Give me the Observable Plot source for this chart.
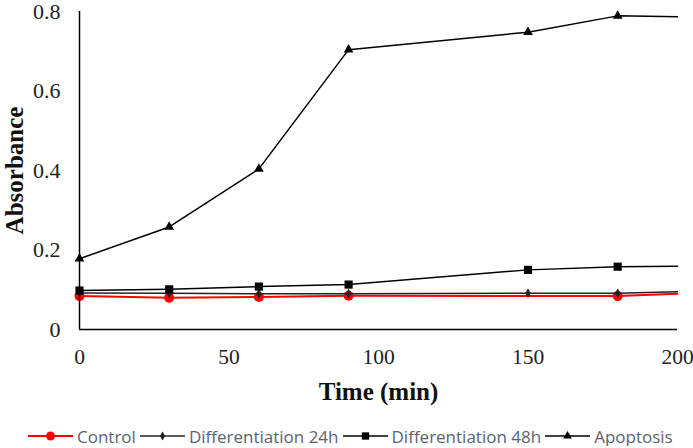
<!DOCTYPE html>
<html>
<head>
<meta charset="utf-8">
<script src="https://cdn.jsdelivr.net/npm/d3@7"></script>
<script src="https://cdn.jsdelivr.net/npm/@observablehq/plot@0.6"></script>
<style>
  html, body { margin: 0; padding: 0; background: #fff; }
  #chart svg { display: block; }
  #legend { display: flex; align-items: center; height: 20px; margin-left: 28px; margin-top: 5px;
    font-family: "Open Sans", sans-serif; font-size: 17px; color: #5a6470; white-space: nowrap; }
  #legend .item { display: flex; align-items: center; margin-right: 4px; }
  #legend svg { display: block; margin-right: 4px; }
</style>
</head>
<body>
<div id="chart"></div>
<div id="legend"></div>
<script>
const times = [0, 30, 60, 90, 150, 180, 200];
const control = [0.084, 0.080, 0.082, 0.085, null, 0.084, 0.090];
const diff24h = [0.092, 0.091, 0.090, 0.090, 0.091, 0.091, 0.095];
const diff48h = [0.098, 0.101, 0.108, 0.113, 0.150, 0.158, 0.159];
const apoptosis = [0.178, 0.258, 0.404, 0.704, 0.748, 0.789, 0.787];
const seriesNames = ["Control", "Differentiation 24h", "Differentiation 48h", "Apoptosis"];
const xTicks = [0, 50, 100, 150, 200];
const yTicks = [0, 0.2, 0.4, 0.6, 0.8];
const yTickLabels = ["0", "0.2", "0.4", "0.6", "0.8"];

const serif = "Liberation Serif";
const styles = {
  "Control": {color: "#ff0000", symbol: "circle", r: 5, sw: 2},
  "Differentiation 24h": {color: "#222", symbol: "diamond", r: 3, sw: 1.5},
  "Differentiation 48h": {color: "#000", symbol: "square", r: 4.6, sw: 1.5},
  "Apoptosis": {color: "#000", symbol: "triangle", r: 3.6, sw: 1.5}
};
const allValues = [control, diff24h, diff48h, apoptosis];
const rows = [];
seriesNames.forEach((s, i) => times.forEach((t, j) => rows.push({series: s, t, v: allValues[i][j]})));

const marks = [];
for (const s of seriesNames) {
  const st = styles[s];
  const data = rows.filter(d => d.series === s && d.v != null);
  marks.push(Plot.line(data, {x: "t", y: "v", stroke: st.color, strokeWidth: st.sw}));
  marks.push(Plot.dot(data.filter(d => d.t !== 200), {x: "t", y: "v", symbol: () => st.symbol, r: st.r, fill: st.color, stroke: "none"}));
}

const chart = Plot.plot({
  width: 693,
  height: 421,
  marginLeft: 79,
  marginRight: 16,
  marginTop: 11,
  marginBottom: 92,
  style: {fontFamily: serif, fontSize: "20px", color: "#222", background: "#fff"},
  x: {domain: [0, 200], axis: null},
  y: {domain: [0, 0.8], axis: null},
  symbol: {type: "identity"},
  marks: [
    Plot.text(xTicks, {x: d => d, text: d => String(d), frameAnchor: "bottom", dy: 28, lineAnchor: "middle", textAnchor: "middle", fontSize: 21.5, fontFamily: serif, fill: "#222"}),
    Plot.text(yTicks, {y: d => d, text: (d, i) => yTickLabels[i], frameAnchor: "left", dx: -19, lineAnchor: "middle", textAnchor: "end", fontSize: 22, fontFamily: serif, fill: "#222"}),
    ...marks,
    Plot.ruleX([0], {stroke: "#000", strokeWidth: 1.5}),
    Plot.ruleY([0], {stroke: "#000", strokeWidth: 1.5}),
    Plot.text(["Time (min)"], {frameAnchor: "bottom", dy: 62, lineAnchor: "middle", textAnchor: "middle", fontWeight: "bold", fontSize: 25, fontFamily: serif, fill: "#111"}),
    Plot.text(["Absorbance"], {frameAnchor: "left", dx: -65, rotate: -90, textAnchor: "middle", lineAnchor: "middle", fontWeight: "bold", fontSize: 25, fontFamily: serif, fill: "#111"})
  ]
});
document.getElementById("chart").appendChild(chart);

// legend
const legend = d3.select("#legend");
const symbolPaths = {circle: d3.symbolCircle, diamond: d3.symbolDiamond, square: d3.symbolSquare, triangle: d3.symbolTriangle};
for (const s of seriesNames) {
  const st = styles[s];
  const item = legend.append("div").attr("class", "item");
  const sv = item.append("svg").attr("width", 45).attr("height", 14);
  sv.append("line").attr("x1", 0).attr("x2", 45).attr("y1", 7).attr("y2", 7)
    .attr("stroke", st.color).attr("stroke-width", st.sw);
  const area = Math.PI * st.r * st.r * 0.8;
  sv.append("path").attr("transform", "translate(22.5,7)")
    .attr("d", d3.symbol(symbolPaths[st.symbol], area)())
    .attr("fill", st.color);
  item.append("span").text(s);
}
</script>
</body>
</html>
